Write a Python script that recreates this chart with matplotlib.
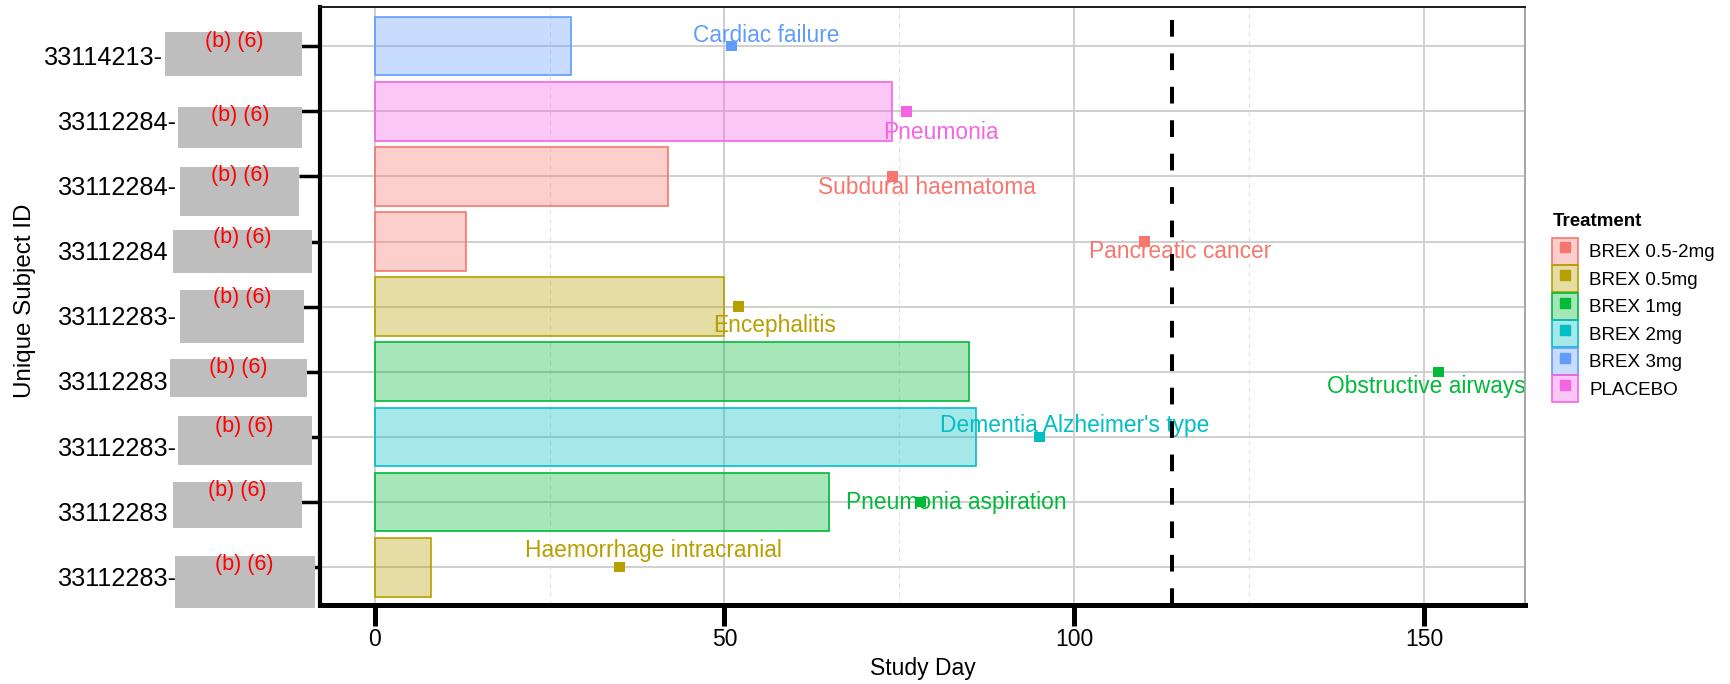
import matplotlib
matplotlib.use("Agg")
import matplotlib.pyplot as plt
import matplotlib.colors as mcolors
import matplotlib.transforms as mtransforms
from matplotlib.patches import Patch, Rectangle
from matplotlib.lines import Line2D

plt.rcParams["font.family"] = ["Liberation Sans", "DejaVu Sans"]

# data, top row first
subject_ids = ["33114213-", "33112284-", "33112284-", "33112284", "33112283-",
               "33112283", "33112283-", "33112283", "33112283-"]
treatment = ["BREX 3mg", "PLACEBO", "BREX 0.5-2mg", "BREX 0.5-2mg", "BREX 0.5mg",
             "BREX 1mg", "BREX 2mg", "BREX 1mg", "BREX 0.5mg"]
exposure_end = [28, 74, 42, 13, 50, 85, 86, 65, 8]
event_day = [51, 76, 74, 110, 52, 152, 95, 78, 35]
event_term = ["Cardiac failure", "Pneumonia", "Subdural haematoma", "Pancreatic cancer",
              "Encephalitis", "Obstructive airways", "Dementia Alzheimer's type",
              "Pneumonia aspiration", "Haemorrhage intracranial"]
# where the repelled labels ended up
label_day = [56.0, 80.9, 78.9, 115.1, 57.1, 150.3, 100.0, 83.1, 39.8]
label_shift = [-0.17, 0.33, 0.17, 0.154, 0.286, 0.232, -0.178, 0.0, -0.257]
cutoff_day = 114

treatment_levels = ["BREX 0.5-2mg", "BREX 0.5mg", "BREX 1mg", "BREX 2mg", "BREX 3mg", "PLACEBO"]
treatment_colors = ["#F8766D", "#B79F00", "#00BA38", "#00BFC4", "#619CFF", "#F564E3"]
color_of = dict(zip(treatment_levels, treatment_colors))

W, H = 1730, 684


def fx(px):
    return px / W


def fy(py):
    return 1 - py / H


fig = plt.figure(figsize=(W / 100, H / 100), dpi=100)
ax = fig.add_axes([fx(320), fy(605), (1525 - 320) / W, (605 - 7) / H])

rows = list(range(len(subject_ids)))
cols = [color_of[t] for t in treatment]
fills = [mcolors.to_rgba(c, 0.35) for c in cols]

ax.barh(rows, exposure_end, left=0, height=0.9, color=fills, edgecolor=cols,
        linewidth=1.2, zorder=2)
for i in rows:
    ax.text(label_day[i], i + label_shift[i], event_term[i], color=cols[i],
            fontsize=16.4, ha="center", va="center", zorder=2.5)
ax.scatter(event_day, rows, marker="s", s=7.6 ** 2, c=cols, linewidths=0, zorder=3)
ax.axvline(cutoff_day, color="black", lw=2.9, dashes=(4.15, 4.15), zorder=4)

ax.set_xlim(-7.8, 164.4)
ax.set_ylim(8.58, -0.6)
ax.set_xticks([0, 50, 100, 150])
ax.set_xticks([25, 75, 125], minor=True)
ax.set_yticks(rows)
ax.set_yticklabels([])
ax.set_axisbelow(True)
ax.grid(which="major", color="#cfcfcf", lw=1.4)
ax.grid(which="minor", axis="x", color="#e2e2e2", lw=0.8, ls=(0, (4, 4)))
ax.tick_params(axis="x", which="major", length=15, width=3.6, color="black",
               labelsize=16.5, pad=1.2)
ax.tick_params(axis="y", which="major", length=15, width=2.5, color="black")
ax.tick_params(which="minor", length=0)

ax.spines["left"].set_linewidth(3)
ax.spines["bottom"].set_linewidth(3.6)
ax.spines["top"].set_linewidth(1.4)
ax.spines["top"].set_color("#1a1a1a")
ax.spines["right"].set_linewidth(1.4)
ax.spines["right"].set_color("#a6a6a6")

ax.set_xlabel("Study Day", fontsize=16.5)
ax.xaxis.label.set_va("center")
ax.xaxis.set_label_coords(0.5, -0.106)
fig.text(fx(25), fy(300.5), "Unique Subject ID", rotation=90, fontsize=17.4,
         ha="center", va="center")

# subject id labels, drawn by hand because the redacted ones sit unevenly
lab_trans = mtransforms.offset_copy(
    mtransforms.blended_transform_factory(fig.transFigure, ax.transData),
    fig=fig, x=0, y=-18.7, units="dots")
for i in rows:
    ax.text(fx(44 if i == 0 else 58), i, subject_ids[i], transform=lab_trans,
            fontsize=18.2, ha="left", va="baseline", clip_on=False)

# redaction boxes (pixel layout of the scanned page)
redact_boxes = [(164.6, 301.6, 32.3, 76), (177.6, 301.6, 107.3, 147.7),
                (180.3, 298.5, 167, 216), (172.6, 312.3, 229.7, 273.3),
                (180.3, 304.3, 289.7, 342.7), (170, 307, 359, 397.3),
                (177.6, 312.3, 416.3, 465.3), (172.6, 301.6, 481.7, 528),
                (174.9, 314.6, 556.3, 608)]
redact_text = [(234, 41.3), (240, 115.3), (240, 175.3), (242.4, 238), (242.3, 298),
               (238.6, 368), (244.7, 426.3), (237.7, 490.3), (244.7, 564.7)]
for (x0, x1, y0, y1), (tx, ty) in zip(redact_boxes, redact_text):
    fig.add_artist(Rectangle((fx(x0), fy(y1)), (x1 - x0) / W, (y1 - y0) / H,
                             transform=fig.transFigure, facecolor="#bebebe",
                             edgecolor="none", zorder=2))
    fig.text(fx(tx), fy(ty), "(b) (6)", color="#ff0000", fontsize=15.5,
             ha="center", va="center", zorder=3)

# legend
handles = [(Patch(facecolor=mcolors.to_rgba(c, 0.35), edgecolor=c, lw=1.2),
            Line2D([], [], marker="s", ls="", color=c, ms=7))
           for c in treatment_colors]
ax.legend(handles, treatment_levels, loc="upper left",
          bbox_to_anchor=(fx(1551.7), fy(237.7)), bbox_transform=fig.transFigure,
          frameon=False, borderpad=0, borderaxespad=0, fontsize=13.6,
          handlelength=1.41, handleheight=1.82, labelspacing=0.03,
          handletextpad=0.58)
fig.text(fx(1552.7), fy(226), "Treatment", fontsize=13.5, fontweight="bold",
         ha="left", va="baseline")

fig.savefig("out.png", dpi=100)
